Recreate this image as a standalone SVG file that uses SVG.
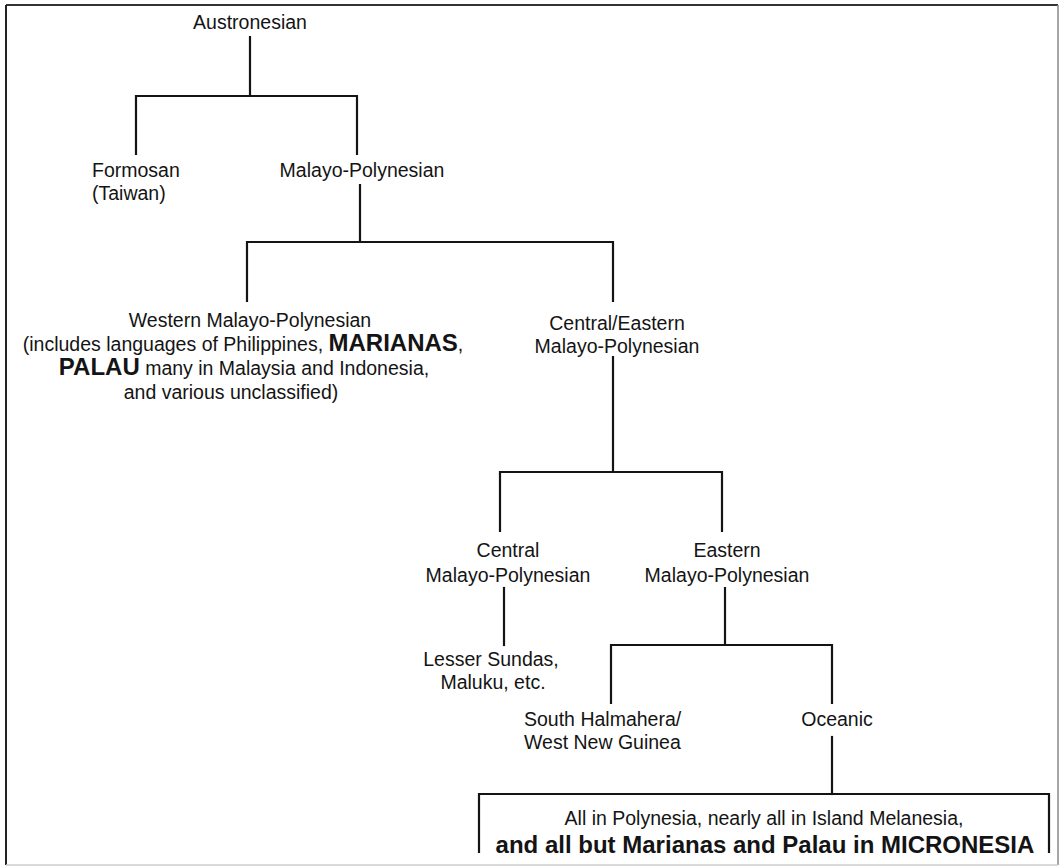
<svg xmlns="http://www.w3.org/2000/svg" width="1062" height="867" viewBox="0 0 1062 867">
<style>
text{font-family:"Liberation Sans",Arial,sans-serif;font-size:19.5px;fill:#141414}
.c{text-anchor:middle}
.b{font-weight:bold;font-size:24px}
.ln{fill:none;stroke:#141414;stroke-width:2.2;stroke-linecap:square}
</style>
<rect width="1062" height="867" fill="#fff"/>
<g id="frame">
<line x1="6" y1="5" x2="1058" y2="5" stroke="#333" stroke-width="2"/>
<line x1="6" y1="5" x2="6" y2="865" stroke="#222" stroke-width="2"/>
<line x1="1058" y1="5" x2="1058" y2="865" stroke="#888" stroke-width="1.5"/>
<line x1="6" y1="865" x2="1058" y2="865" stroke="#ccc" stroke-width="1.5"/>
</g>
<g id="connectors" class="ln">
<path class="ln" d="M250,37V96M136,154V96H357V154"/>
<path class="ln" d="M360,185V242M247,301V242H613V301"/>
<path class="ln" d="M613,357V472M500,531V472H722V531"/>
<path class="ln" d="M504,588V645"/>
<path class="ln" d="M725,588V645M611,703V645H832V703"/>
<path class="ln" d="M832,737V794"/>
</g>
<g id="austronesian"><text class="c" x="250" y="29">Austronesian</text></g>
<g id="formosan"><text x="92" y="177">Formosan</text><text x="92" y="200">(Taiwan)</text></g>
<g id="malayo-polynesian"><text class="c" x="362" y="177">Malayo-Polynesian</text></g>
<g id="western-mp">
<text class="c" x="250" y="327">Western Malayo-Polynesian</text>
<text class="c" x="243" y="351">(includes languages of Philippines, <tspan class="b">MARIANAS</tspan>,</text>
<text class="c" x="244" y="375"><tspan class="b">PALAU</tspan> many in Malaysia and Indonesia,</text>
<text class="c" x="231" y="399">and various unclassified)</text>
</g>
<g id="central-eastern-mp">
<text class="c" x="617" y="330">Central/Eastern</text>
<text class="c" x="617" y="353">Malayo-Polynesian</text>
</g>
<g id="central-mp">
<text class="c" x="508" y="557">Central</text>
<text class="c" x="508" y="582">Malayo-Polynesian</text>
</g>
<g id="eastern-mp">
<text class="c" x="727" y="557">Eastern</text>
<text class="c" x="727" y="582">Malayo-Polynesian</text>
</g>
<g id="lesser-sundas">
<text class="c" x="491" y="666">Lesser Sundas,</text>
<text class="c" x="493" y="689">Maluku, etc.</text>
</g>
<g id="south-halmahera">
<text x="524" y="726">South Halmahera/</text>
<text x="524" y="749">West New Guinea</text>
</g>
<g id="oceanic"><text class="c" x="837" y="726">Oceanic</text></g>
<g id="oceanic-box">
<path class="ln" d="M479,852V794H1049V852"/>
<text class="c" x="764" y="825">All in Polynesia, nearly all in Island Melanesia,</text>
<text class="c b" x="765" y="853">and all but Marianas and Palau in MICRONESIA</text>
</g>
</svg>
